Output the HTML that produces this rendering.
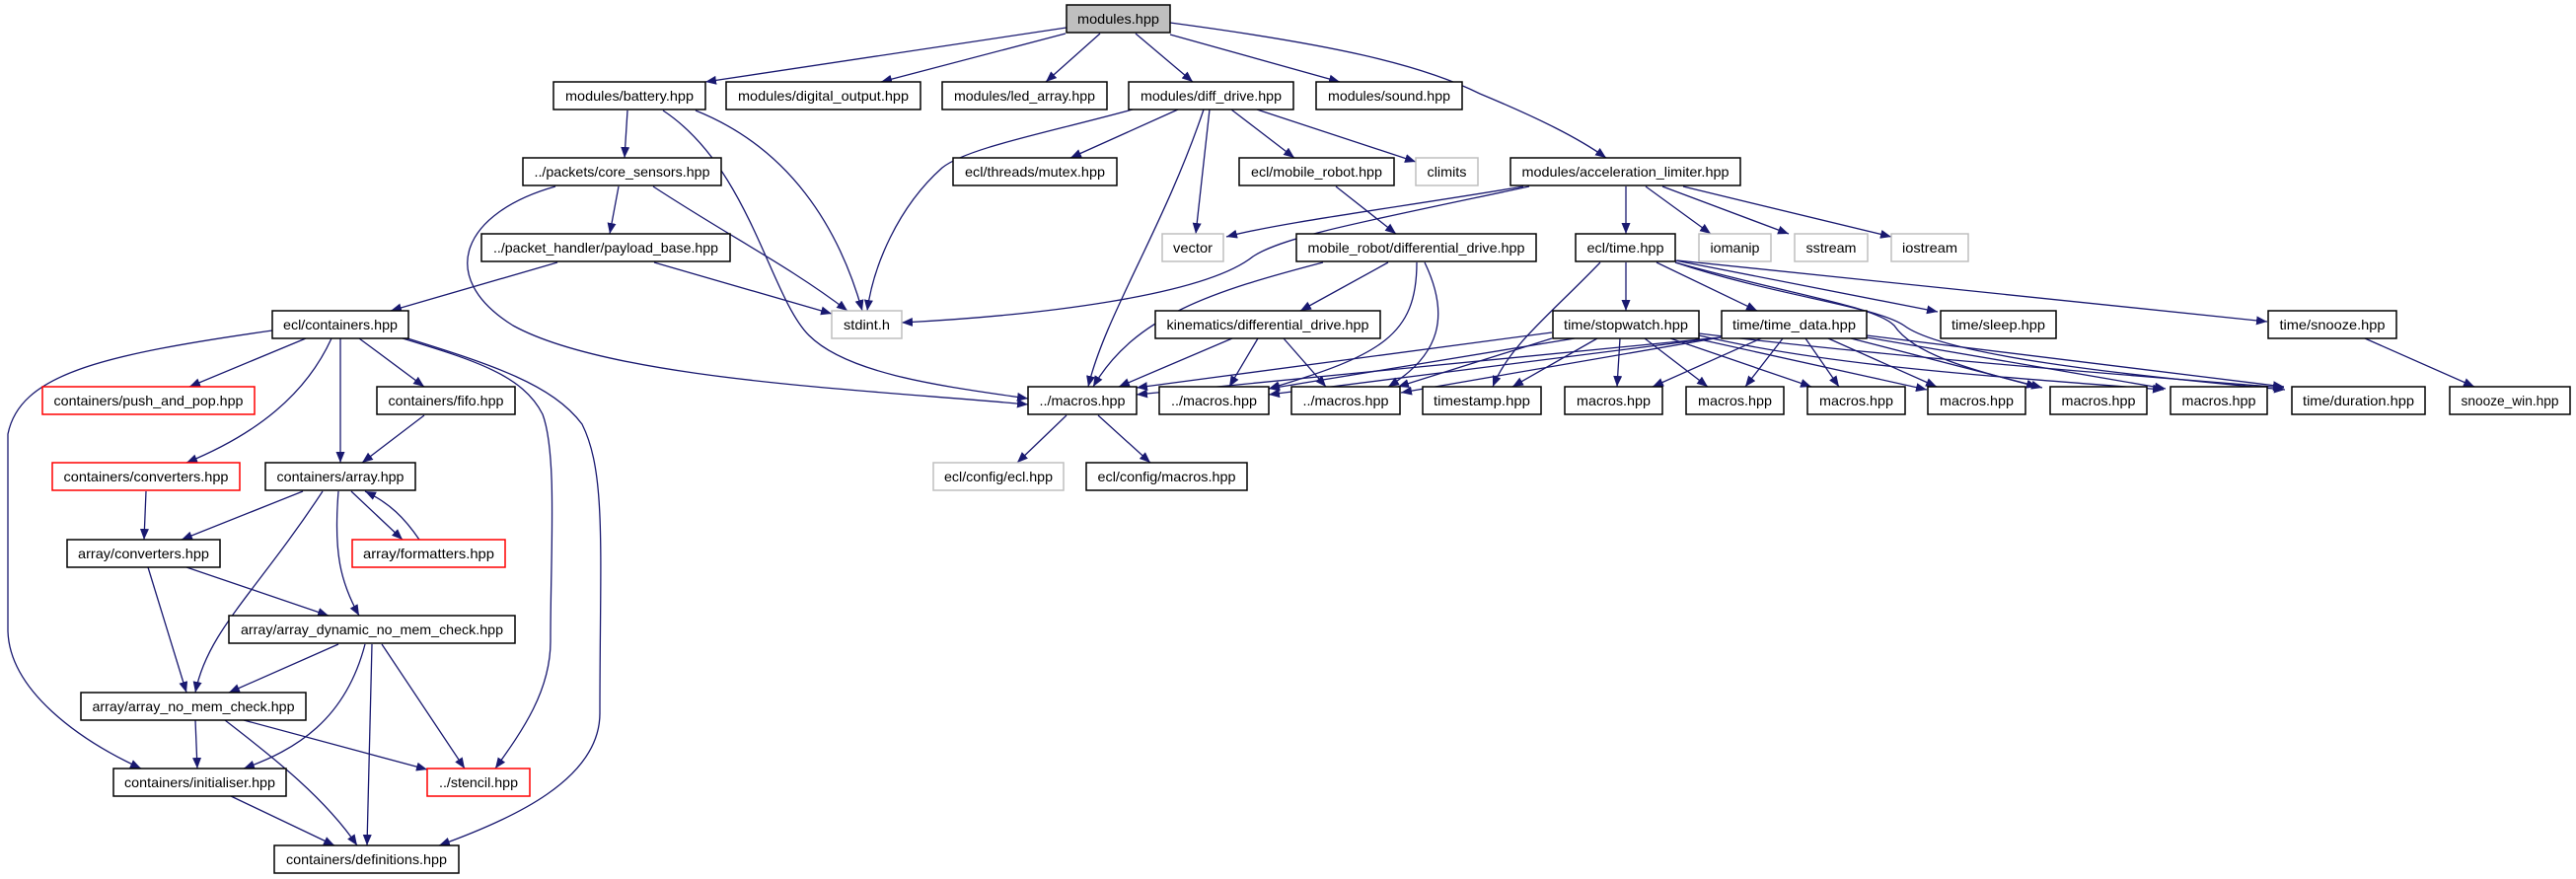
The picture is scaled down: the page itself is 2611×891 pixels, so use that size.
<!DOCTYPE html>
<html><head><meta charset="utf-8"><style>
html,body{margin:0;padding:0;background:#fff;}
svg{display:block;}
text{font-family:"Liberation Sans",sans-serif;font-size:14px;fill:#000;text-anchor:middle;}
.n{fill:#fff;stroke:#000;stroke-width:1.5;}
.g{fill:#fff;stroke:#bfbfbf;stroke-width:1.5;}
.r{fill:#fff;stroke:#ff0000;stroke-width:1.5;}
.e{fill:none;stroke:#191970;stroke-width:1.3;marker-end:url(#a);}
</style></head><body>
<svg width="2611" height="891" viewBox="0 0 2611 891" xmlns="http://www.w3.org/2000/svg">
<defs><marker id="a" markerWidth="12" markerHeight="10" refX="11" refY="4.5" orient="auto" markerUnits="userSpaceOnUse"><path d="M0,0 L11,4.5 L0,9 z" fill="#191970"/></marker></defs>
<!-- edges -->
<g>
<path class="e" d="M1081,28 L715,83"/>
<path class="e" d="M1080,34 L893,83"/>
<path class="e" d="M1115,34 L1060,83"/>
<path class="e" d="M1151,34 L1209,83"/>
<path class="e" d="M1186,35 L1358,83"/>
<path class="e" d="M1186,23 C1350,45 1440,65 1500,95 C1560,120 1600,140 1628,160"/>
<path class="e" d="M636,112 L633,160"/>
<path class="e" d="M705,112 C800,150 850,230 874,315"/>
<path class="e" d="M672,112 C760,170 780,300 820,340 C860,380 960,392 1042,404"/>
<path class="e" d="M627,189 L618,237"/>
<path class="e" d="M662,189 C740,240 800,270 859,315"/>
<path class="e" d="M563,189 C470,215 440,280 520,330 C620,385 880,395 1042,410"/>
<path class="e" d="M565,266 L396,315"/>
<path class="e" d="M663,266 L843,318"/>
<path class="e" d="M1148,111 C1060,135 980,150 955,170 C910,210 885,270 879,315"/>
<path class="e" d="M1194,111 L1085,160"/>
<path class="e" d="M1220,111 C1180,230 1120,320 1103,392"/>
<path class="e" d="M1226,111 L1212,237"/>
<path class="e" d="M1248,111 L1312,160"/>
<path class="e" d="M1274,111 L1435,164"/>
<path class="e" d="M1354,189 L1415,237"/>
<path class="e" d="M1544,189 C1420,210 1300,225 1243,240"/>
<path class="e" d="M1550,189 C1380,225 1300,240 1270,260 C1220,300 1050,320 914,327"/>
<path class="e" d="M1648,189 L1648,237"/>
<path class="e" d="M1668,189 L1734,237"/>
<path class="e" d="M1685,189 L1813,237"/>
<path class="e" d="M1706,189 L1917,240"/>
<path class="e" d="M1407,266 L1318,315"/>
<path class="e" d="M1341,266 C1230,295 1150,320 1108,392"/>
<path class="e" d="M1436,266 C1436,340 1400,360 1286,394"/>
<path class="e" d="M1444,266 C1470,320 1460,360 1407,392"/>
<path class="e" d="M1249,343 L1134,392"/>
<path class="e" d="M1275,343 L1246,392"/>
<path class="e" d="M1301,343 L1344,392"/>
<path class="e" d="M1648,266 L1648,315"/>
<path class="e" d="M1679,266 L1781,315"/>
<path class="e" d="M1622,266 C1570,320 1530,350 1513,392"/>
<path class="e" d="M1698,264 L1964,316"/>
<path class="e" d="M1700,264 L2298,326"/>
<path class="e" d="M1698,266 C1800,300 1900,310 1930,330 C1970,360 2150,380 2316,395"/>
<path class="e" d="M1698,266 C1820,300 1900,310 1920,330 C1940,360 2000,375 2065,392"/>
<path class="e" d="M1573,337 L1152,393"/>
<path class="e" d="M1596,343 L1286,394"/>
<path class="e" d="M1573,343 L1417,392"/>
<path class="e" d="M1619,343 L1533,392"/>
<path class="e" d="M1642,343 L1639,392"/>
<path class="e" d="M1667,343 L1731,392"/>
<path class="e" d="M1693,343 L1836,392"/>
<path class="e" d="M1718,343 L1953,395"/>
<path class="e" d="M1722,340 C1850,370 2000,380 2193,395"/>
<path class="e" d="M1722,338 C1900,360 2150,380 2315,393"/>
<path class="e" d="M1744,342 L1152,400"/>
<path class="e" d="M1744,342 L1286,400"/>
<path class="e" d="M1744,342 L1420,398"/>
<path class="e" d="M1785,343 L1675,392"/>
<path class="e" d="M1807,343 L1769,392"/>
<path class="e" d="M1830,343 L1864,392"/>
<path class="e" d="M1853,343 L1963,392"/>
<path class="e" d="M1876,343 L2070,393"/>
<path class="e" d="M1892,342 L2195,394"/>
<path class="e" d="M1892,340 L2315,392"/>
<path class="e" d="M2397,343 L2508,392"/>
<path class="e" d="M1081,421 L1031,469"/>
<path class="e" d="M1113,421 L1166,469"/>
<path class="e" d="M310,343 L192,392"/>
<path class="e" d="M364,343 L430,392"/>
<path class="e" d="M345,343 L345,469"/>
<path class="e" d="M336,343 C310,400 260,440 189,469"/>
<path class="e" d="M276,335 C100,360 20,380 8,440 L8,640 C10,700 80,750 143,779"/>
<path class="e" d="M408,343 C480,365 530,380 550,420 C565,460 558,560 558,650 C558,700 530,740 502,779"/>
<path class="e" d="M413,343 C500,370 560,390 590,430 C615,480 608,560 608,723 C608,790 520,830 445,857"/>
<path class="e" d="M430,421 L367,469"/>
<path class="e" d="M148,498 L146,547"/>
<path class="e" d="M307,498 L184,547"/>
<path class="e" d="M327,498 C260,600 210,640 198,702"/>
<path class="e" d="M343,498 C338,560 345,590 364,624"/>
<path class="e" d="M356,498 L408,547"/>
<path class="e" d="M425,547 C410,525 395,510 370,498"/>
<path class="e" d="M150,575 L189,702"/>
<path class="e" d="M189,575 L333,624"/>
<path class="e" d="M343,653 L232,702"/>
<path class="e" d="M370,653 C350,730 300,760 247,779"/>
<path class="e" d="M377,653 L372,857"/>
<path class="e" d="M387,653 L471,779"/>
<path class="e" d="M198,730 L200,779"/>
<path class="e" d="M228,730 C280,770 330,810 362,857"/>
<path class="e" d="M247,730 L433,780"/>
<path class="e" d="M234,807 L339,857"/>
</g>
<!-- nodes -->
<g>
<rect x="1081" y="5" width="105" height="28" style="fill:#bfbfbf;stroke:#000;stroke-width:1.5"/><text x="1133.5" y="24" textLength="83" lengthAdjust="spacingAndGlyphs">modules.hpp</text>
<rect class="n" x="561" y="83" width="154" height="28"/><text x="638" y="102" textLength="130" lengthAdjust="spacingAndGlyphs">modules/battery.hpp</text>
<rect class="n" x="736" y="83" width="197" height="28"/><text x="834.5" y="102" textLength="173" lengthAdjust="spacingAndGlyphs">modules/digital_output.hpp</text>
<rect class="n" x="955" y="83" width="167" height="28"/><text x="1038.5" y="102" textLength="143" lengthAdjust="spacingAndGlyphs">modules/led_array.hpp</text>
<rect class="n" x="1144" y="83" width="167" height="28"/><text x="1227.5" y="102" textLength="143" lengthAdjust="spacingAndGlyphs">modules/diff_drive.hpp</text>
<rect class="n" x="1334" y="83" width="148" height="28"/><text x="1408" y="102" textLength="124" lengthAdjust="spacingAndGlyphs">modules/sound.hpp</text>
<rect class="n" x="530" y="160" width="201" height="28"/><text x="630.5" y="179" textLength="178" lengthAdjust="spacingAndGlyphs">../packets/core_sensors.hpp</text>
<rect class="n" x="966" y="160" width="166" height="28"/><text x="1049" y="179" textLength="142" lengthAdjust="spacingAndGlyphs">ecl/threads/mutex.hpp</text>
<rect class="n" x="1256" y="160" width="157" height="28"/><text x="1334.5" y="179" textLength="133" lengthAdjust="spacingAndGlyphs">ecl/mobile_robot.hpp</text>
<rect class="g" x="1435" y="160" width="63" height="28"/><text x="1466.5" y="179" textLength="40" lengthAdjust="spacingAndGlyphs">climits</text>
<rect class="n" x="1531" y="160" width="233" height="28"/><text x="1647.5" y="179" textLength="210" lengthAdjust="spacingAndGlyphs">modules/acceleration_limiter.hpp</text>
<rect class="n" x="488" y="237" width="252" height="28"/><text x="614" y="256" textLength="228" lengthAdjust="spacingAndGlyphs">../packet_handler/payload_base.hpp</text>
<rect class="g" x="1178" y="237" width="62" height="28"/><text x="1209" y="256" textLength="40" lengthAdjust="spacingAndGlyphs">vector</text>
<rect class="n" x="1314" y="237" width="243" height="28"/><text x="1435.5" y="256" textLength="220" lengthAdjust="spacingAndGlyphs">mobile_robot/differential_drive.hpp</text>
<rect class="n" x="1597" y="237" width="101" height="28"/><text x="1647.5" y="256" textLength="78" lengthAdjust="spacingAndGlyphs">ecl/time.hpp</text>
<rect class="g" x="1722" y="237" width="73" height="28"/><text x="1758.5" y="256" textLength="50" lengthAdjust="spacingAndGlyphs">iomanip</text>
<rect class="g" x="1819" y="237" width="74" height="28"/><text x="1856" y="256" textLength="51" lengthAdjust="spacingAndGlyphs">sstream</text>
<rect class="g" x="1917" y="237" width="78" height="28"/><text x="1956" y="256" textLength="56" lengthAdjust="spacingAndGlyphs">iostream</text>
<rect class="n" x="276" y="315" width="138" height="28"/><text x="345" y="334" textLength="116" lengthAdjust="spacingAndGlyphs">ecl/containers.hpp</text>
<rect class="g" x="843" y="315" width="71" height="28"/><text x="878.5" y="334" textLength="47" lengthAdjust="spacingAndGlyphs">stdint.h</text>
<rect class="n" x="1171" y="315" width="228" height="28"/><text x="1285" y="334" textLength="205" lengthAdjust="spacingAndGlyphs">kinematics/differential_drive.hpp</text>
<rect class="n" x="1574" y="315" width="148" height="28"/><text x="1648" y="334" textLength="126" lengthAdjust="spacingAndGlyphs">time/stopwatch.hpp</text>
<rect class="n" x="1745" y="315" width="147" height="28"/><text x="1818.5" y="334" textLength="125" lengthAdjust="spacingAndGlyphs">time/time_data.hpp</text>
<rect class="n" x="1967" y="315" width="117" height="28"/><text x="2025.5" y="334" textLength="95" lengthAdjust="spacingAndGlyphs">time/sleep.hpp</text>
<rect class="n" x="2299" y="315" width="130" height="28"/><text x="2364" y="334" textLength="107" lengthAdjust="spacingAndGlyphs">time/snooze.hpp</text>
<rect class="r" x="43" y="392" width="215" height="28"/><text x="150.5" y="411" textLength="192" lengthAdjust="spacingAndGlyphs">containers/push_and_pop.hpp</text>
<rect class="n" x="382" y="392" width="140" height="28"/><text x="452" y="411" textLength="117" lengthAdjust="spacingAndGlyphs">containers/fifo.hpp</text>
<rect class="n" x="1042" y="392" width="110" height="28"/><text x="1097" y="411" textLength="87" lengthAdjust="spacingAndGlyphs">../macros.hpp</text>
<rect class="n" x="1175" y="392" width="111" height="28"/><text x="1230.5" y="411" textLength="87" lengthAdjust="spacingAndGlyphs">../macros.hpp</text>
<rect class="n" x="1309" y="392" width="110" height="28"/><text x="1364" y="411" textLength="87" lengthAdjust="spacingAndGlyphs">../macros.hpp</text>
<rect class="n" x="1442" y="392" width="120" height="28"/><text x="1502" y="411" textLength="98" lengthAdjust="spacingAndGlyphs">timestamp.hpp</text>
<rect class="n" x="1586" y="392" width="99" height="28"/><text x="1635.5" y="411" textLength="75" lengthAdjust="spacingAndGlyphs">macros.hpp</text>
<rect class="n" x="1709" y="392" width="99" height="28"/><text x="1758.5" y="411" textLength="75" lengthAdjust="spacingAndGlyphs">macros.hpp</text>
<rect class="n" x="1832" y="392" width="99" height="28"/><text x="1881.5" y="411" textLength="75" lengthAdjust="spacingAndGlyphs">macros.hpp</text>
<rect class="n" x="1954" y="392" width="99" height="28"/><text x="2003.5" y="411" textLength="75" lengthAdjust="spacingAndGlyphs">macros.hpp</text>
<rect class="n" x="2078" y="392" width="98" height="28"/><text x="2127" y="411" textLength="75" lengthAdjust="spacingAndGlyphs">macros.hpp</text>
<rect class="n" x="2200" y="392" width="98" height="28"/><text x="2249" y="411" textLength="75" lengthAdjust="spacingAndGlyphs">macros.hpp</text>
<rect class="n" x="2323" y="392" width="135" height="28"/><text x="2390.5" y="411" textLength="113" lengthAdjust="spacingAndGlyphs">time/duration.hpp</text>
<rect class="n" x="2483" y="392" width="122" height="28"/><text x="2544" y="411" textLength="99" lengthAdjust="spacingAndGlyphs">snooze_win.hpp</text>
<rect class="g" x="946" y="469" width="132" height="28"/><text x="1012" y="488" textLength="110" lengthAdjust="spacingAndGlyphs">ecl/config/ecl.hpp</text>
<rect class="n" x="1101" y="469" width="163" height="28"/><text x="1182.5" y="488" textLength="140" lengthAdjust="spacingAndGlyphs">ecl/config/macros.hpp</text>
<rect class="r" x="53" y="469" width="190" height="28"/><text x="148" y="488" textLength="167" lengthAdjust="spacingAndGlyphs">containers/converters.hpp</text>
<rect class="n" x="269" y="469" width="152" height="28"/><text x="345" y="488" textLength="129" lengthAdjust="spacingAndGlyphs">containers/array.hpp</text>
<rect class="n" x="68" y="547" width="155" height="28"/><text x="145.5" y="566" textLength="133" lengthAdjust="spacingAndGlyphs">array/converters.hpp</text>
<rect class="r" x="357" y="547" width="155" height="28"/><text x="434.5" y="566" textLength="133" lengthAdjust="spacingAndGlyphs">array/formatters.hpp</text>
<rect class="n" x="232" y="624" width="290" height="28"/><text x="377" y="643" textLength="266" lengthAdjust="spacingAndGlyphs">array/array_dynamic_no_mem_check.hpp</text>
<rect class="n" x="82" y="702" width="228" height="28"/><text x="196" y="721" textLength="205" lengthAdjust="spacingAndGlyphs">array/array_no_mem_check.hpp</text>
<rect class="n" x="115" y="779" width="175" height="28"/><text x="202.5" y="798" textLength="153" lengthAdjust="spacingAndGlyphs">containers/initialiser.hpp</text>
<rect class="r" x="433" y="779" width="104" height="28"/><text x="485" y="798" textLength="80" lengthAdjust="spacingAndGlyphs">../stencil.hpp</text>
<rect class="n" x="278" y="857" width="187" height="28"/><text x="371.5" y="876" textLength="163" lengthAdjust="spacingAndGlyphs">containers/definitions.hpp</text>
</g>
</svg>
</body></html>
